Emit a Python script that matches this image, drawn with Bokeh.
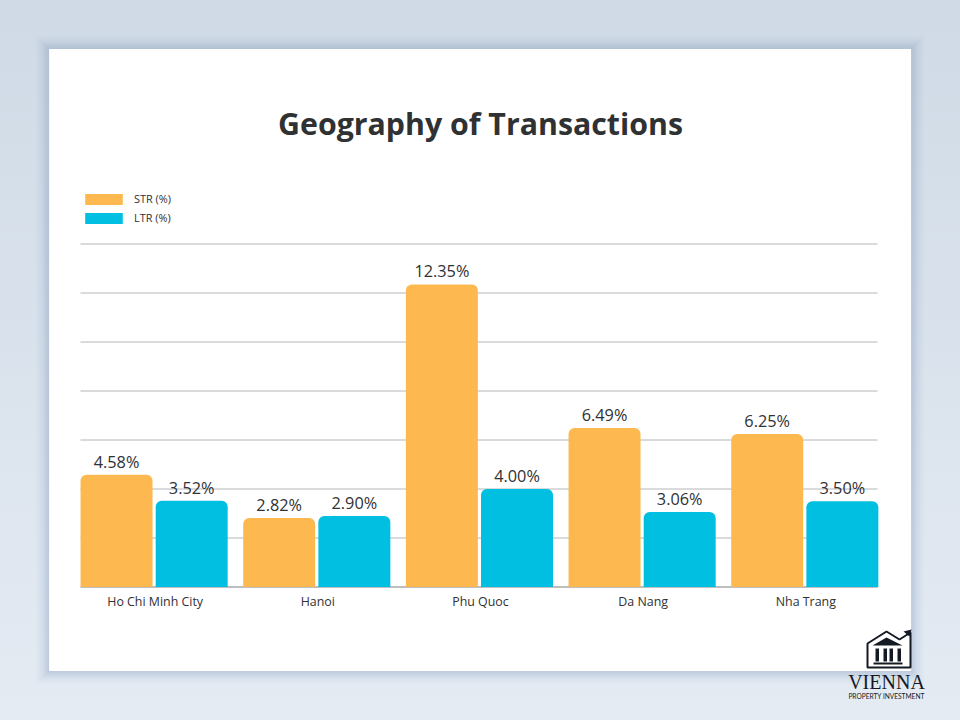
from bokeh.core.properties import value
from bokeh.embed import file_html
from bokeh.resources import INLINE
from bokeh.plotting import figure
from bokeh.models import (BoxAnnotation, CategoricalAxis, ColumnDataSource, FactorRange,
                          Label, PolyAnnotation, Range1d)
from bokeh.transform import dodge

cities = ["Ho Chi Minh City", "Hanoi", "Phu Quoc", "Da Nang", "Nha Trang"]
str_values = [4.58, 2.82, 12.35, 6.49, 6.25]
ltr_values = [3.52, 2.90, 4.00, 3.06, 3.50]
grid_ticks = [2, 4, 6, 8, 10, 12, 14]

ORANGE = "#fdb94f"
BLUE = "#00bfe1"
TEXT = "#2f3133"
DARK = "#141a24"

source = ColumnDataSource(dict(
    city=cities,
    str=str_values,
    ltr=ltr_values,
    str_text=[f"{v:.2f}%" for v in str_values],
    ltr_text=[f"{v:.2f}%" for v in ltr_values],
))
grid_source = ColumnDataSource(dict(
    y=grid_ticks,
    first=[cities[0]] * len(grid_ticks),
    last=[cities[-1]] * len(grid_ticks),
))
base_source = ColumnDataSource(dict(y=[0], first=[cities[0]], last=[cities[-1]]))

# the frame fills the whole page, otherwise the card, legend and logo get clipped to it
x_range = FactorRange(factors=cities, range_padding=0.4508, range_padding_units="absolute")
p = figure(x_range=x_range, y_range=Range1d(-5.449, 23.939), width=960, height=720,
           output_backend="svg", toolbar_location=None,
           x_axis_location=None, y_axis_location=None,
           min_border_left=0, min_border_right=0, min_border_top=0, min_border_bottom=0,
           border_fill_color=None, background_fill_color=None, outline_line_color=None,
           styles={"background": "linear-gradient(180deg, #cfdae6 0%, #e5ebf3 100%)"})
p.grid.visible = False


def box(left, right, top, bottom, color, alpha=1.0, level="overlay"):
    p.add_layout(BoxAnnotation(left=left, right=right, top=top, bottom=bottom,
                               left_units="canvas", right_units="canvas", top_units="canvas", bottom_units="canvas",
                               fill_color=color, fill_alpha=alpha, line_color=None, level=level))


def poly(xs, ys, fill_alpha=1.0, line_color=None, line_width=1.0):
    p.add_layout(PolyAnnotation(xs=xs, ys=ys, xs_units="canvas", ys_units="canvas",
                                fill_color=DARK, fill_alpha=fill_alpha,
                                line_color=line_color, line_alpha=1.0, line_width=line_width, level="overlay"))


def label(x, y, text, font, size, color=TEXT, style="normal"):
    p.add_layout(Label(x=x, y=y, x_units="canvas", y_units="canvas", text=text,
                       text_font=font, text_font_size=size, text_font_style=style, text_color=color,
                       text_align="center", text_baseline="middle", level="overlay"))


# card shadow and card
for spread in [13, 11, 9, 7, 6, 5, 4, 3, 2, 1]:
    box(48.6 - spread, 910.6 + spread, 48.6 - spread, 670.6 + spread, "#4a6480", 0.02, "image")
box(48.6, 910.6, 48.6, 670.6, "white", 1.0, "image")

label(480, 122.5, "Geography of Transactions", "Open Sans", "30.3px", style="bold")

p.segment(x0=dodge("first", -0.4590, range=x_range), x1=dodge("last", 0.441, range=x_range), y0="y", y1="y",
          source=grid_source, line_color="#b4b6b9", line_width=1)
p.segment(x0=dodge("first", -0.4590, range=x_range), x1=dodge("last", 0.441, range=x_range), y0="y", y1="y",
          source=base_source, line_color="#7d7f82", line_width=1)

p.vbar(x=dodge("city", -0.2375, range=x_range), top="str", width=0.4426, source=source,
       fill_color=ORANGE, line_color=None, border_radius=(6, 6, 0, 0), legend_label="STR (%)")
p.vbar(x=dodge("city", 0.2245, range=x_range), top="ltr", width=0.4426, source=source,
       fill_color=BLUE, line_color=None, border_radius=(6, 6, 0, 0), legend_label="LTR (%)")

for offset, field, text in [(-0.2375, "str", "str_text"), (0.2245, "ltr", "ltr_text")]:
    p.text(x=dodge("city", offset, range=x_range), y=field, text=text, source=source,
           text_font=value("Open Sans"), text_font_size="16.3px", text_color=TEXT,
           text_align="center", text_baseline="bottom", y_offset=-2)

# fixed_location takes no room in the panel, so the frame still fills the page
x_axis = CategoricalAxis(fixed_location=0, axis_line_color=None,
                         major_tick_line_color=None, minor_tick_line_color=None,
                         major_label_text_font="Open Sans", major_label_text_font_size="12.4px",
                         major_label_text_color=TEXT, major_label_standoff=0)
p.add_layout(x_axis, "below")

# legend swatches are drawn a bit smaller than glyph_width x glyph_height
p.legend.location = (80, 495)
p.legend.background_fill_alpha = 0
p.legend.border_line_color = None
p.legend.margin = 0
p.legend.padding = 0
p.legend.spacing = 4
p.legend.glyph_width = 47
p.legend.glyph_height = 14
p.legend.label_height = 14
p.legend.label_standoff = 7
p.legend.label_text_font = "Open Sans"
p.legend.label_text_font_size = "10.9px"
p.legend.label_text_color = TEXT

# logo
poly([867, 886, 899, 910, 910, 867], [643, 631, 639, 632, 667, 667],
     fill_alpha=0, line_color=DARK, line_width=2)
poly([872, 886, 902], [645, 637, 645])
for left in [875, 883, 889, 897]:
    box(left, left + 3.5, 648, 661, DARK)
box(873, 902, 662, 664, DARK)
poly([903, 911, 909], [631, 629, 636])
label(886, 681, "VIENNA", "Liberation Serif", "20px", DARK)
label(886, 695, "PROPERTY INVESTMENT", "Lato", "6.6px", DARK)

open("out.html", "w").write(file_html(p, INLINE))
